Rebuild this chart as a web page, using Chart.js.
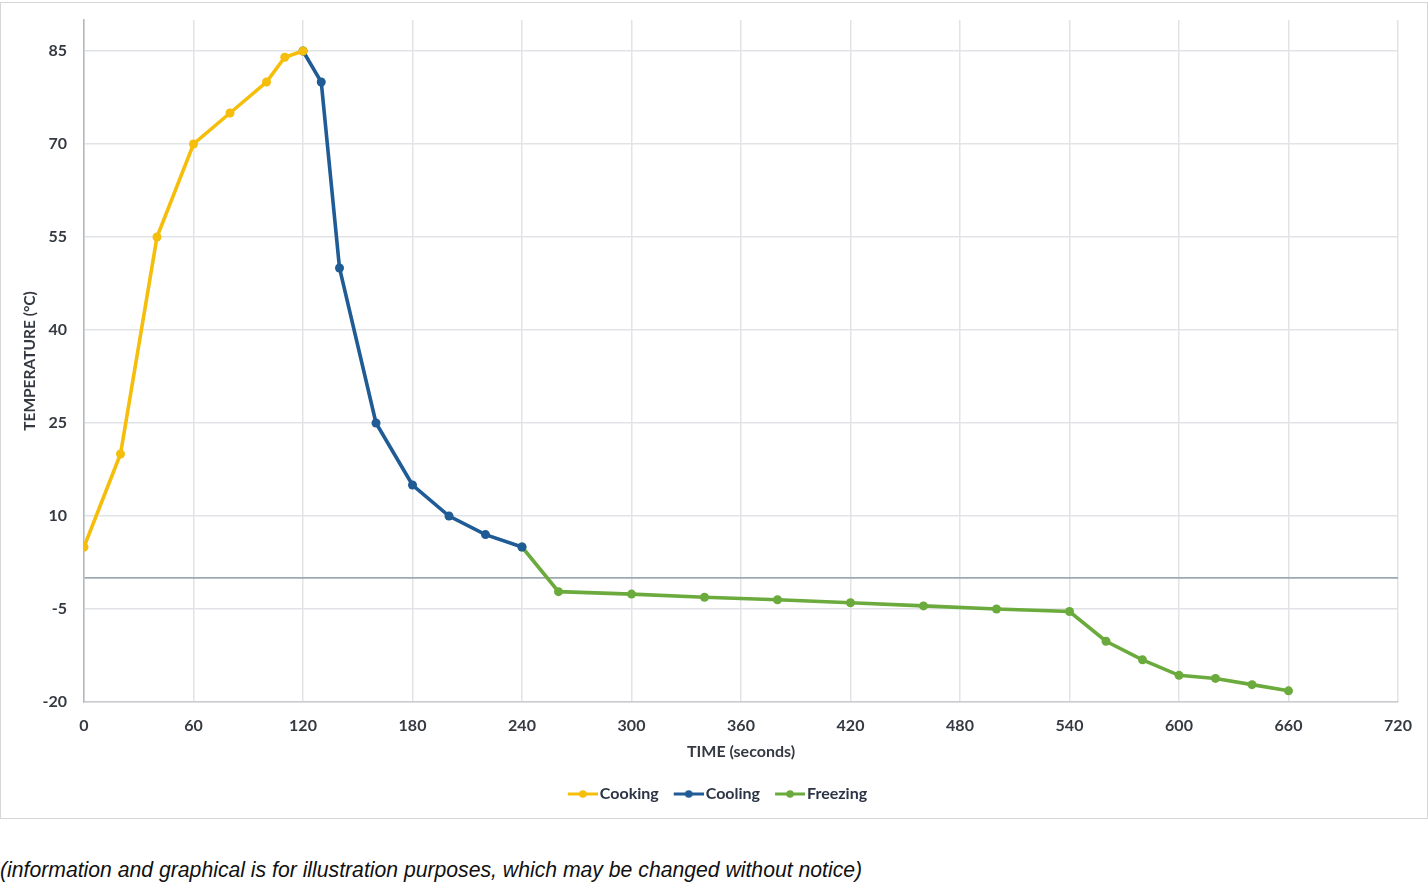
<!DOCTYPE html>
<html>
<head>
<meta charset="utf-8">
<script src="https://cdn.jsdelivr.net/npm/chart.js@4.4.1/dist/chart.umd.min.js"></script>
<style>
  html, body { margin: 0; padding: 0; background: #ffffff; }
  #frame { position: absolute; left: 0; top: 2px; width: 1426px; height: 815px; border: 1px solid #d6d6d6; background: #fff; }
  #chart { display: block; }
  #note { position: absolute; left: 0; top: 858px; font-family: "Liberation Sans", Arial, sans-serif; font-style: italic; font-size: 21.2px; color: #111; }
</style>
</head>
<body>
<div id="frame"><canvas id="chart" width="1426" height="815"></canvas></div>
<div id="note">(information and graphical is for illustration purposes, which may be changed without notice)</div>
<script>
const cookingTime = [0, 20, 40, 60, 80, 100, 110, 120];
const cookingTemp = [5, 20, 55, 70, 75, 80, 84, 85];
const coolingTime = [120, 130, 140, 160, 180, 200, 220, 240];
const coolingTemp = [85, 80, 50, 25, 15, 10, 7, 5];
const freezingTime = [240, 260, 300, 340, 380, 420, 460, 500, 540, 560, 580, 600, 620, 640, 660];
const freezingTemp = [5, -2.2, -2.6, -3.1, -3.5, -4, -4.5, -5, -5.4, -10.2, -13.2, -15.7, -16.2, -17.2, -18.2];
const yTickValues = [-20, -5, 0, 10, 25, 40, 55, 70, 85];
const xTickValues = [0, 60, 120, 180, 240, 300, 360, 420, 480, 540, 600, 660, 720];
const seriesNames = ['Cooking', 'Cooling', 'Freezing'];
const seriesColors = ['#F5BE0B', '#1F5B95', '#6BAA3C'];

function pairs(xs, ys) { return xs.map((x, i) => ({x: x, y: ys[i]})); }

// legend marker: transparent lead-in on the left, then a 30px line with a dot
function legendIcon(color) {
  const c = document.createElement('canvas');
  c.width = 41; c.height = 10;
  const g = c.getContext('2d');
  g.strokeStyle = color; g.lineWidth = 3;
  g.beginPath(); g.moveTo(11, 5); g.lineTo(41, 5); g.stroke();
  g.fillStyle = color;
  g.beginPath(); g.arc(26, 5, 3.8, 0, Math.PI * 2); g.fill();
  return c;
}

const datasetsData = [pairs(cookingTime, cookingTemp), pairs(coolingTime, coolingTemp), pairs(freezingTime, freezingTemp)];

const tickFont = { family: 'Lato, "Open Sans", sans-serif', size: 16, weight: '700' };

new Chart(document.getElementById('chart'), {
  type: 'line',
  data: {
    datasets: datasetsData.map((d, i) => ({
      label: seriesNames[i],
      data: d,
      borderColor: seriesColors[i],
      backgroundColor: seriesColors[i],
      borderWidth: 3.6,
      pointRadius: 4.5,
      pointHoverRadius: 4.5,
      pointBorderWidth: 0,
      pointStyle: 'circle',
      tension: 0
    }))
  },
  options: {
    responsive: false,
    animation: false,
    events: [],
    layout: { padding: { left: 2, top: 17, right: 0, bottom: 6 } },
    scales: {
      x: {
        type: 'linear',
        min: 0, max: 720,
        afterBuildTicks: (s) => { s.ticks = xTickValues.map(v => ({value: v})); },
        afterFit: (s) => { s.height = 74; s.paddingRight = 29; },
        grid: { color: '#e1e3e6', lineWidth: 1.5, drawTicks: false },
        border: { color: '#c9cbcf', width: 1.5 },
        ticks: { font: tickFont, color: '#353a42', padding: 14, maxRotation: 0 },
        title: { display: true, text: 'TIME (seconds)', font: tickFont, color: '#353a42', padding: { top: 0, bottom: 15 } }
      },
      y: {
        type: 'linear',
        min: -20, max: 90,
        afterBuildTicks: (s) => { s.ticks = yTickValues.map(v => ({value: v})); },
        afterFit: (s) => { s.width = 81; s.paddingTop = 0; s.paddingBottom = 0; },
        grid: {
          drawTicks: false,
          color: (c) => (c.tick && c.tick.value === 0) ? '#9ea8b3' : '#e1e3e6',
          lineWidth: (c) => (c.tick && c.tick.value === 0) ? 1.8 : 1.5
        },
        border: { color: '#b4b7bb', width: 1.5 },
        ticks: {
          font: tickFont, color: '#353a42', padding: 17,
          callback: (v) => v === 0 ? '' : v
        },
        title: { display: true, text: 'TEMPERATURE (°C)', font: { family: 'Lato, "Open Sans", sans-serif', size: 15.5, weight: '700' }, color: '#353a42', padding: { top: 17.5, bottom: 0 } }
      }
    },
    plugins: {
      tooltip: { enabled: false },
      legend: {
        position: 'bottom',
        labels: {
          usePointStyle: true,
          pointStyleWidth: 29,
          font: { family: 'Lato, "Open Sans", sans-serif', size: 16, weight: '700' },
          color: '#2b3545',
          padding: 10,
          boxHeight: 10,
          generateLabels: (chart) => {
            const items = Chart.defaults.plugins.legend.labels.generateLabels(chart);
            return items.map((it) => Object.assign(it, { pointStyle: legendIcon(seriesColors[it.datasetIndex]) }));
          }
        }
      }
    }
  }
});
</script>
</body>
</html>
